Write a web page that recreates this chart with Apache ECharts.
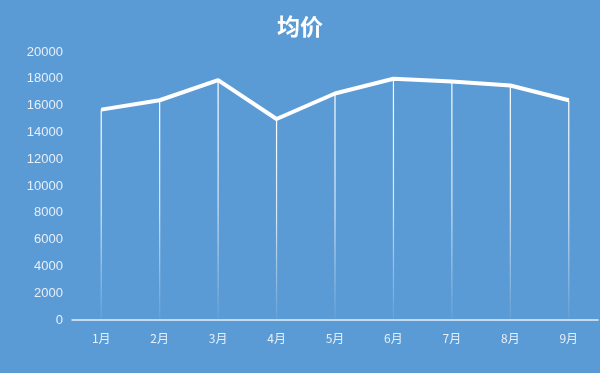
<!DOCTYPE html>
<html><head><meta charset="utf-8">
<script src="https://cdn.jsdelivr.net/npm/echarts@6/dist/echarts.min.js"></script>
<style>html,body{margin:0;padding:0;background:#5b9bd5}#c{width:600px;height:373px}</style>
</head><body><div id="c"></div>
<script>
var categories = ['1月','2月','3月','4月','5月','6月','7月','8月','9月'];
var avgPrice = [15700, 16400, 17900, 15000, 16900, 18000, 17800, 17500, 16400];
var yTicks = [0, 2000, 4000, 6000, 8000, 10000, 12000, 14000, 16000, 18000, 20000];

var chart = echarts.init(document.getElementById('c'));
chart.setOption({
  backgroundColor: '#5b9bd5',
  animation: false,
  title: {
    text: '均价', left: 'center', top: 10,
    textStyle: { color: '#ffffff', fontSize: 23, fontWeight: 'bold', fontFamily: 'Noto Sans CJK SC' }
  },
  grid: { left: 72, right: 2, top: 52, bottom: 53 },
  xAxis: {
    type: 'category', data: categories, boundaryGap: true,
    axisLine: { lineStyle: { color: '#e6eef8', width: 1.5 } },
    axisTick: { show: false },
    axisLabel: { color: '#e6eef8', fontSize: 12, margin: 12, fontFamily: 'Noto Sans CJK SC' },
    splitLine: { show: false }
  },
  yAxis: {
    type: 'value', min: yTicks[0], max: yTicks[yTicks.length - 1], interval: 2000,
    axisLine: { show: false }, axisTick: { show: false },
    splitLine: { show: false },
    axisLabel: { color: '#e6eef8', fontSize: 13, margin: 9, fontFamily: 'Liberation Sans',
      formatter: function (v) { return String(v); } }
  },
  series: [
    {
      type: 'bar', data: avgPrice, barWidth: 1.2, silent: true,
      itemStyle: {
        color: new echarts.graphic.LinearGradient(0, 0, 0, 1, [
          { offset: 0, color: 'rgba(255,255,255,1)' },
          { offset: 0.5, color: 'rgba(255,255,255,0.75)' },
          { offset: 1, color: 'rgba(255,255,255,0.05)' }
        ])
      }
    },
    {
      type: 'line', data: avgPrice, symbol: 'none',
      lineStyle: { color: '#ffffff', width: 4 }
    }
  ]
});
</script></body></html>
